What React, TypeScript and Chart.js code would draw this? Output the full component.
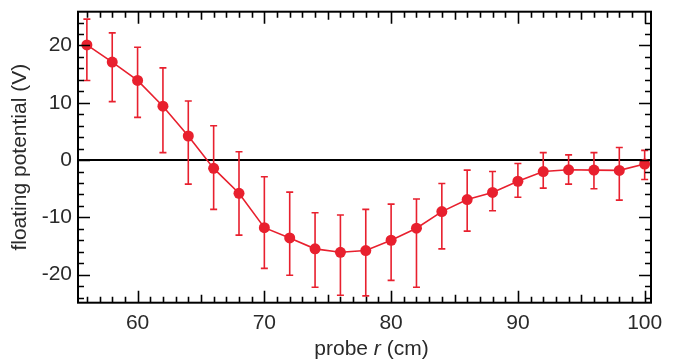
import React, { useEffect, useRef } from "react";
import { Chart, registerables } from "chart.js";

Chart.register(...registerables);

const probeR = [56, 58, 60, 62, 64, 66, 68, 70, 72, 74, 76, 78, 80, 82, 84, 86, 88, 90, 92, 94, 96, 98, 100];
const potential = [20.1, 17.1, 13.9, 9.4, 4.2, -1.45, -5.8, -11.8, -13.6, -15.5, -16.1, -15.8, -14.0, -11.9, -9.0, -6.9, -5.65, -3.7, -2.0, -1.7, -1.75, -1.8, -0.7];
const errUpper = [24.6, 22.2, 19.7, 16.1, 10.3, 6.0, 1.45, -2.9, -5.6, -9.2, -9.6, -8.6, -7.7, -6.8, -4.1, -1.75, -2.0, -0.6, 1.3, 0.9, 1.3, 2.2, 1.7];
const errLower = [13.9, 10.2, 7.45, 1.3, -4.2, -8.6, -13.1, -18.9, -20.1, -22.2, -23.6, -23.7, -21.0, -22.2, -15.5, -12.4, -8.85, -6.5, -4.9, -4.2, -5.0, -7.0, -3.4];
const xTickValues = [60, 70, 80, 90, 100];
const yTickValues = [-20, -10, 0, 10, 20];
const xTitleParts = ["probe ", "r", " (cm)"];
const yTitle = "floating potential (V)";

const RED = "#e8202e";
const TEXT = "#2a2a2a";
const FONT = "'Liberation Sans', Arial, sans-serif";
const FS = 21;

const frameAndErrors = {
  id: "frameAndErrors",
  beforeDatasetsDraw(chart: any) {
    const { ctx, chartArea: a, scales } = chart;
    const x = scales.x, y = scales.y;
    ctx.save();
    ctx.strokeStyle = "#000";
    ctx.lineWidth = 2;
    const y0 = y.getPixelForValue(0);
    ctx.beginPath();
    ctx.moveTo(a.left, y0);
    ctx.lineTo(a.right, y0);
    ctx.stroke();
    ctx.strokeStyle = RED;
    ctx.lineWidth = 1.6;
    for (let i = 0; i < probeR.length; i++) {
      const px = x.getPixelForValue(probeR[i]);
      const pu = y.getPixelForValue(errUpper[i]);
      const pl = y.getPixelForValue(errLower[i]);
      ctx.beginPath();
      ctx.moveTo(px, pu);
      ctx.lineTo(px, pl);
      ctx.moveTo(px - 3.5, pu);
      ctx.lineTo(px + 3.5, pu);
      ctx.moveTo(px - 3.5, pl);
      ctx.lineTo(px + 3.5, pl);
      ctx.stroke();
    }
    ctx.restore();
  },
  afterDraw(chart: any) {
    const { ctx, chartArea: a, scales } = chart;
    const x = scales.x, y = scales.y;
    ctx.save();
    ctx.strokeStyle = "#000";
    ctx.lineWidth = 1.6;
    ctx.beginPath();
    for (let v = 56; v <= 100; v++) {
      const px = Math.round(x.getPixelForValue(v)) + 0.5;
      const len = v % 10 === 0 ? 12 : v % 5 === 0 ? 8 : 6;
      ctx.moveTo(px, a.bottom);
      ctx.lineTo(px, a.bottom - len);
      ctx.moveTo(px, a.top);
      ctx.lineTo(px, a.top + len);
    }
    for (let v = -24; v <= 24; v += 2) {
      const py = Math.round(y.getPixelForValue(v)) + 0.5;
      const len = v % 10 === 0 ? 12 : 6;
      ctx.moveTo(a.left, py);
      ctx.lineTo(a.left + len, py);
      ctx.moveTo(a.right, py);
      ctx.lineTo(a.right - len, py);
    }
    ctx.stroke();
    ctx.lineWidth = 2;
    ctx.strokeRect(a.left, a.top, a.right - a.left, a.bottom - a.top);

    // x-axis title with italic r
    ctx.fillStyle = TEXT;
    ctx.textBaseline = "alphabetic";
    ctx.textAlign = "left";
    const fonts = [`${FS}px ${FONT}`, `italic ${FS}px ${FONT}`, `${FS}px ${FONT}`];
    let total = 0;
    const widths = xTitleParts.map((t, i) => {
      ctx.font = fonts[i];
      const w = ctx.measureText(t).width;
      total += w;
      return w;
    });
    let cx = (a.left + a.right) / 2 + 7 - total / 2;
    const baseY = a.bottom + 52;
    xTitleParts.forEach((t, i) => {
      ctx.font = fonts[i];
      ctx.fillText(t, cx, baseY);
      cx += widths[i];
    });
    ctx.restore();
  },
};

export default function App() {
  const ref = useRef<HTMLCanvasElement>(null);
  useEffect(() => {
    if (!ref.current) return;
    const chart = new Chart(ref.current, {
      type: "line",
      data: {
        datasets: [
          {
            data: probeR.map((r, i) => ({ x: r, y: potential[i] })),
            borderColor: RED,
            backgroundColor: RED,
            borderWidth: 1.6,
            pointRadius: 5.5,
            pointBackgroundColor: RED,
            pointBorderWidth: 0,
            tension: 0,
          },
        ],
      },
      options: {
        animation: false,
        responsive: false,
        layout: { padding: { top: 11.7, right: 35, left: 0, bottom: 0 } },
        plugins: { legend: { display: false }, tooltip: { enabled: false } },
        scales: {
          x: {
            type: "linear",
            min: 55.3,
            max: 100.5,
            afterBuildTicks: (s: any) => {
              s.ticks = xTickValues.map((v) => ({ value: v }));
            },
            afterFit: (s: any) => {
              s.height = 57.3;
              s.paddingLeft = 0;
              s.paddingRight = 0;
              s.paddingTop = 0;
              s.paddingBottom = 0;
            },
            grid: { display: false, drawTicks: false },
            border: { display: false },
            ticks: { color: TEXT, font: { family: FONT, size: FS }, padding: 8, maxRotation: 0 },
          },
          y: {
            min: -24.9,
            max: 25.9,
            afterBuildTicks: (s: any) => {
              s.ticks = yTickValues.map((v) => ({ value: v }));
            },
            afterFit: (s: any) => {
              s.width = 78;
              s.paddingLeft = 0;
              s.paddingRight = 0;
              s.paddingTop = 0;
              s.paddingBottom = 0;
            },
            grid: { display: false, drawTicks: false },
            border: { display: false },
            ticks: { color: TEXT, font: { family: FONT, size: FS }, padding: 6 },
            title: {
              display: true,
              text: yTitle,
              color: TEXT,
              font: { family: FONT, size: FS },
              padding: { top: 8, bottom: 0 },
            },
          },
        },
      },
      plugins: [frameAndErrors],
    });
    return () => chart.destroy();
  }, []);
  return (
    <div style={{ position: "absolute", left: 0, top: 0, width: 686, height: 360, background: "#fff" }}>
      <canvas ref={ref} width={686} height={360} />
    </div>
  );
}
